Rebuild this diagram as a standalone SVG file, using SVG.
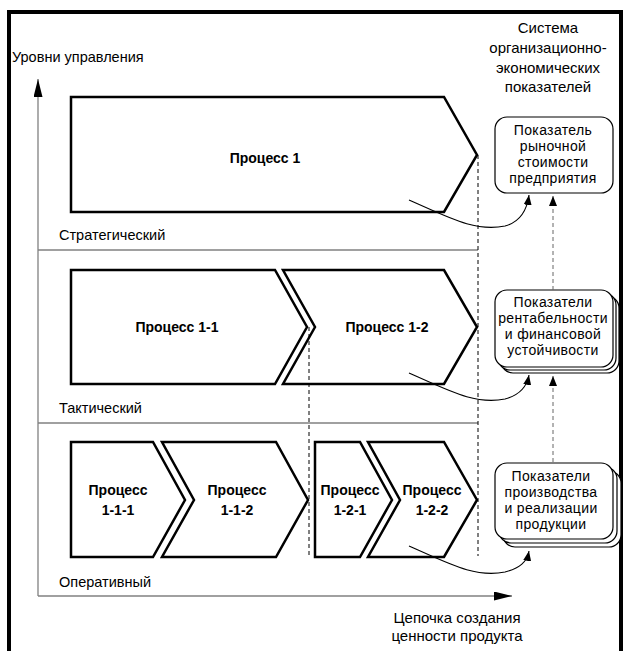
<svg xmlns="http://www.w3.org/2000/svg" width="626" height="651" viewBox="0 0 626 651">
<style>
text{font-family:"Liberation Sans",Arial,sans-serif;fill:#000}
.lbl{font-size:14.5px}
.r{font-size:15px;text-anchor:middle}
.b{font-size:14px;letter-spacing:0.35px;text-anchor:middle}
.p{font-size:14px;font-weight:bold;text-anchor:middle}
.proc{fill:#fff;stroke:#000;stroke-width:2.5;stroke-linejoin:miter}
.box{fill:#fff;stroke:#000;stroke-width:1.2}
.axis{stroke:#808080;stroke-width:1.3;fill:none}
.dash{stroke:#000;stroke-width:1;stroke-dasharray:4,3;fill:none}
.dashg{stroke:#666;stroke-width:1;stroke-dasharray:4,3;fill:none}
.curve{stroke:#000;stroke-width:1.1;fill:none}
</style>
<defs>
<marker id="ah" markerWidth="10" markerHeight="8" refX="10" refY="4" orient="auto" markerUnits="userSpaceOnUse">
<path d="M0,0 L10,4 L0,8 Z" fill="#000"/>
</marker>
<marker id="axh" markerWidth="18" markerHeight="9" refX="18" refY="4.5" orient="auto" markerUnits="userSpaceOnUse">
<path d="M0,0 L18,4.5 L0,9 Z" fill="#000"/>
</marker>
</defs>
<rect x="0" y="0" width="626" height="651" fill="#fff"/>
<rect x="9" y="12" width="612" height="660" fill="none" stroke="#000" stroke-width="4"/>

<g id="axes">
<polyline class="axis" points="38,250 478,250"/>
<polyline class="axis" points="38,423 478,423"/>
<line class="axis" x1="38" y1="596" x2="38" y2="79" marker-end="url(#axh)"/>
<line class="axis" x1="38" y1="596" x2="512" y2="596" marker-end="url(#axh)"/>
<text class="lbl" x="12" y="62">Уровни управления</text>
<text class="lbl" x="59" y="240">Стратегический</text>
<text class="lbl" x="59" y="413">Тактический</text>
<text class="lbl" x="59" y="587">Оперативный</text>
<text class="r" x="457" y="623">Цепочка создания</text>
<text class="r" x="457" y="641">ценности продукта</text>
</g>

<g id="header">
<text class="r" x="548" y="33">Система</text>
<text class="r" x="548" y="53">организационно-</text>
<text class="r" x="548" y="73">экономических</text>
<text class="r" x="548" y="92">показателей</text>
</g>

<g id="p1">
<polygon class="proc" points="71,97 444,97 477,155 444,212 71,212"/>
<text class="p" x="265" y="163">Процесс 1</text>
</g>
<g id="p11">
<polygon class="proc" points="71,270 275,270 307,327 275,384 71,384"/>
<text class="p" x="177" y="332">Процесс 1-1</text>
</g>
<g id="p12">
<polygon class="proc" points="283,270 444,270 477,327 444,384 283,384 315,327"/>
<text class="p" x="387" y="332">Процесс 1-2</text>
</g>
<g id="p111">
<polygon class="proc" points="71,442 153,442 185,500 153,557 71,557"/>
<text class="p" x="118" y="495">Процесс</text>
<text class="p" x="118" y="515">1-1-1</text>
</g>
<g id="p112">
<polygon class="proc" points="162,442 276,442 308,500 276,557 162,557 194,500"/>
<text class="p" x="237" y="495">Процесс</text>
<text class="p" x="237" y="515">1-1-2</text>
</g>
<g id="p121">
<polygon class="proc" points="315,442 360,442 392,500 360,557 315,557"/>
<text class="p" x="350" y="495">Процесс</text>
<text class="p" x="350" y="515">1-2-1</text>
</g>
<g id="p122">
<polygon class="proc" points="368,442 444,442 477,500 444,557 368,557 400,500"/>
<text class="p" x="432" y="495">Процесс</text>
<text class="p" x="432" y="515">1-2-2</text>
</g>

<g id="ind1">
<rect class="box" x="495" y="117" width="118" height="76" rx="12"/>
<text class="b" x="553" y="135">Показатель</text>
<text class="b" x="553" y="151">рыночной</text>
<text class="b" x="553" y="167">стоимости</text>
<text class="b" x="553" y="183">предприятия</text>
</g>
<g id="ind2">
<rect class="box" x="501" y="296" width="118" height="77" rx="12"/>
<rect class="box" x="498" y="293" width="118" height="77" rx="12"/>
<rect class="box" x="495" y="290" width="118" height="77" rx="12"/>
<text class="b" x="553" y="307">Показатели</text>
<text class="b" x="553" y="323">рентабельности</text>
<text class="b" x="553" y="339">и финансовой</text>
<text class="b" x="553" y="355">устойчивости</text>
</g>
<g id="ind3">
<rect class="box" x="503" y="471" width="118" height="76" rx="12"/>
<rect class="box" x="499" y="467" width="118" height="76" rx="12"/>
<rect class="box" x="495" y="463" width="118" height="76" rx="12"/>
<text class="b" x="551" y="481">Показатели</text>
<text class="b" x="551" y="497">производства</text>
<text class="b" x="551" y="513">и реализации</text>
<text class="b" x="551" y="529">продукции</text>
</g>

<g id="connectors">
<line class="dash" x1="478" y1="155" x2="478" y2="556"/>
<line class="dash" x1="309" y1="327" x2="309" y2="556"/>
<line class="dashg" x1="553" y1="290" x2="553" y2="196" marker-end="url(#ah)"/>
<line class="dashg" x1="553" y1="462" x2="553" y2="376" marker-end="url(#ah)"/>
<path class="curve" d="M409,200 C450,218 475,232 505,226 C520,222 527,210 529,195" marker-end="url(#ah)"/>
<path class="curve" d="M409,373 C450,391 475,405 505,399 C520,395 527,386 529,375" marker-end="url(#ah)"/>
<path class="curve" d="M409,546 C450,564 475,578 505,572 C520,568 527,562 529,551" marker-end="url(#ah)"/>
</g>
</svg>
